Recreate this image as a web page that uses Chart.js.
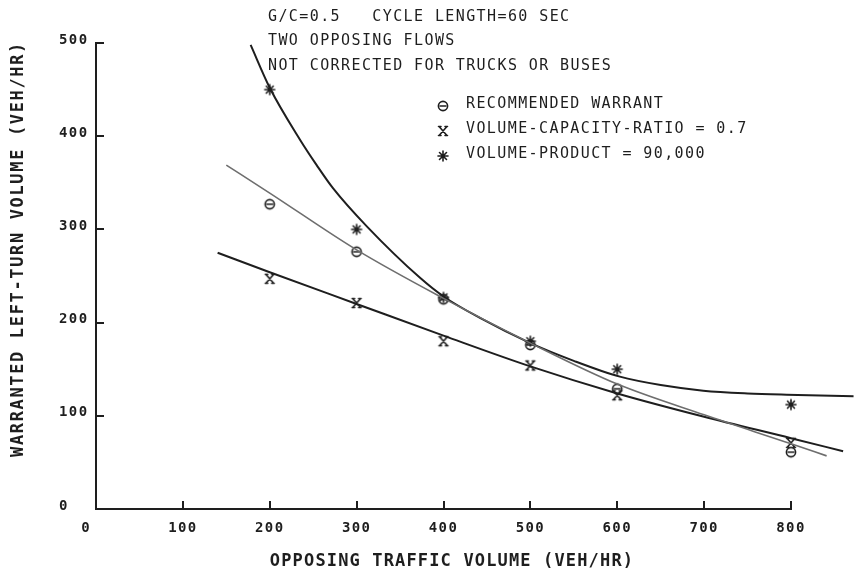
<!DOCTYPE html>
<html>
<head>
<meta charset="utf-8">
<script src="https://cdn.jsdelivr.net/npm/chart.js@4.4.1/dist/chart.umd.min.js"></script>
<style>
  html, body { margin: 0; padding: 0; background: #ffffff; }
  #c { display: block; }
</style>
</head>
<body>
<canvas id="c" width="855" height="574"></canvas>
<script>
// ---------- data ----------
const opposingVolume = [200, 300, 400, 500, 600, 800];
const recommendedWarrant = [327, 276, 225, 176, 129, 61];
const vcRatioWarrant = [247, 221, 180, 154, 122, 71];
const volumeProductWarrant = [450, 300, 227, 180, 150, 112];

// fitted curves
const recCurveX = [150, 200, 300, 400, 500, 600, 700, 800, 841];
const recCurveY = [369, 339, 278, 226, 178, 134, 101, 70, 57];
const vcCurveX = [140, 200, 300, 400, 500, 600, 700, 800, 860];
const vcCurveY = [275, 254, 220, 186, 153, 124, 99, 76, 62];
const prodCurveX = [178, 200, 235, 254, 273, 312, 373, 400, 442, 500, 550, 603, 650, 699, 750, 795, 872];
const prodCurveY = [498, 452, 396, 369, 344, 303, 248, 228, 205, 178, 159, 142, 133, 127, 124, 122.6, 121];

const xTickValues = [0, 100, 200, 300, 400, 500, 600, 700, 800];
const yTickValues = [0, 100, 200, 300, 400, 500];

const headerLines = [
  'G/C=0.5   CYCLE LENGTH=60 SEC',
  'TWO OPPOSING FLOWS',
  'NOT CORRECTED FOR TRUCKS OR BUSES'
];
const legendLabels = [
  'RECOMMENDED WARRANT',
  'VOLUME-CAPACITY-RATIO = 0.7',
  'VOLUME-PRODUCT = 90,000'
];
const xTitle = 'OPPOSING TRAFFIC VOLUME (VEH/HR)';
const yTitle = 'WARRANTED LEFT-TURN VOLUME (VEH/HR)';

// ---------- styling ----------
const INK = '#1e1e1e';
const GREY = '#6e6e6e';
const MONO = "'DejaVu Sans Mono', 'Liberation Mono', monospace";

// points listed right-to-left so the line is not cut at the axis maximum
function pts(xs, ys) { return xs.map((x, i) => ({ x: x, y: ys[i] })).reverse(); }

function makeMarker(kind) {
  const c = document.createElement('canvas');
  c.width = 14; c.height = 14;
  const g = c.getContext('2d');
  g.strokeStyle = INK;
  g.lineWidth = 1.6;
  g.lineCap = 'round';
  g.beginPath();
  if (kind === 'theta') {
    g.arc(7, 7, 4.6, 0, Math.PI * 2);
    g.moveTo(4.2, 7); g.lineTo(9.8, 7);
  } else if (kind === 'xbar') {
    g.moveTo(3.5, 3); g.lineTo(10.5, 11);
    g.moveTo(10.5, 3); g.lineTo(3.5, 11);
    g.moveTo(2.5, 2.5); g.lineTo(5, 2.5);
    g.moveTo(9, 2.5); g.lineTo(11.5, 2.5);
    g.moveTo(2.5, 11.5); g.lineTo(5, 11.5);
    g.moveTo(9, 11.5); g.lineTo(11.5, 11.5);
  } else {
    g.moveTo(7, 2); g.lineTo(7, 12);
    g.moveTo(2, 7); g.lineTo(12, 7);
    g.moveTo(3.5, 3.5); g.lineTo(10.5, 10.5);
    g.moveTo(10.5, 3.5); g.lineTo(3.5, 10.5);
  }
  g.stroke();
  return c;
}
const markTheta = makeMarker('theta');
const markX = makeMarker('xbar');
const markStar = makeMarker('star');
const legendMarks = [markTheta, markX, markStar];

const decorPlugin = {
  id: 'decor',
  beforeUpdate(chart) { chart.ctx.letterSpacing = '1.4px'; },
  beforeDraw(chart) { chart.ctx.letterSpacing = '1.4px'; },
  afterDraw(chart) {
    const ctx = chart.ctx;
    const xs = chart.scales.x, ys = chart.scales.y;
    const area = chart.chartArea;
    ctx.save();
    // inward tick marks
    ctx.strokeStyle = INK;
    ctx.lineWidth = 2;
    ctx.beginPath();
    xTickValues.forEach(v => {
      if (v === 0) return;
      const px = Math.round(xs.getPixelForValue(v));
      ctx.moveTo(px, area.bottom); ctx.lineTo(px, area.bottom - 8);
    });
    yTickValues.forEach(v => {
      if (v === 0) return;
      const py = Math.round(ys.getPixelForValue(v));
      ctx.moveTo(area.left, py); ctx.lineTo(area.left + 8, py);
    });
    ctx.stroke();

    ctx.fillStyle = INK;
    ctx.textBaseline = 'middle';
    // header notes
    ctx.font = '15px ' + MONO;
    ctx.letterSpacing = '1.4px';
    ctx.textAlign = 'left';
    headerLines.forEach((t, i) => ctx.fillText(t, 268, 17 + i * 24.5));
    // legend
    legendLabels.forEach((t, i) => {
      const y = 104 + i * 25;
      ctx.drawImage(legendMarks[i], 443 - 7, y - 7 + 2);
      ctx.fillText(t, 466, y);
    });
    // axis titles
    ctx.font = 'bold 17px ' + MONO;
    ctx.letterSpacing = '1.15px';
    ctx.textAlign = 'center';
    ctx.fillText(xTitle, 452, 562);
    ctx.save();
    ctx.translate(19, 249);
    ctx.rotate(-Math.PI / 2);
    ctx.letterSpacing = '1.65px';
    ctx.fillText(yTitle, 0, 0);
    ctx.restore();
    ctx.restore();
  }
};

const tickFont = { family: MONO, size: 14, weight: 'bold' };

new Chart(document.getElementById('c'), {
  type: 'scatter',
  data: {
    datasets: [
      { label: 'rec-curve', data: pts(recCurveX, recCurveY), showLine: true, pointRadius: 0,
        borderColor: GREY, borderWidth: 1.6, cubicInterpolationMode: 'monotone', clip: false },
      { label: 'vc-curve', data: pts(vcCurveX, vcCurveY), showLine: true, pointRadius: 0,
        borderColor: INK, borderWidth: 2, cubicInterpolationMode: 'monotone', clip: false },
      { label: 'prod-curve', data: pts(prodCurveX, prodCurveY), showLine: true, pointRadius: 0,
        borderColor: INK, borderWidth: 2, cubicInterpolationMode: 'monotone', clip: false },
      { label: legendLabels[0], data: pts(opposingVolume, recommendedWarrant), showLine: false,
        pointStyle: markTheta, pointRadius: 6, clip: false },
      { label: legendLabels[1], data: pts(opposingVolume, vcRatioWarrant), showLine: false,
        pointStyle: markX, pointRadius: 6, clip: false },
      { label: legendLabels[2], data: pts(opposingVolume, volumeProductWarrant), showLine: false,
        pointStyle: markStar, pointRadius: 6, clip: false }
    ]
  },
  options: {
    responsive: false,
    devicePixelRatio: 1,
    animation: false,
    events: [],
    layout: { padding: { top: 43, right: 64, left: 59, bottom: 0 } },
    plugins: { legend: { display: false }, tooltip: { enabled: false }, title: { display: false } },
    scales: {
      x: {
        type: 'linear', min: 0, max: 800,
        afterBuildTicks: s => { s.ticks = xTickValues.map(v => ({ value: v })); },
        afterFit: s => { s.height = 65; },
        ticks: { font: tickFont, color: INK, padding: 11, maxRotation: 0, autoSkip: false,
                 callback: v => (v === 0 ? '0  ' : String(v)) },
        grid: { display: false, drawTicks: false },
        border: { display: true, color: INK, width: 2 }
      },
      y: {
        type: 'linear', min: 0, max: 500,
        afterBuildTicks: s => { s.ticks = yTickValues.map(v => ({ value: v })); },
        afterFit: s => { s.width = 37; },
        ticks: { font: tickFont, color: INK, padding: 6, labelOffset: -3, autoSkip: false, crossAlign: 'far' },
        grid: { display: false, drawTicks: false },
        border: { display: true, color: INK, width: 2 }
      }
    }
  },
  plugins: [decorPlugin]
});
</script>
</body>
</html>
